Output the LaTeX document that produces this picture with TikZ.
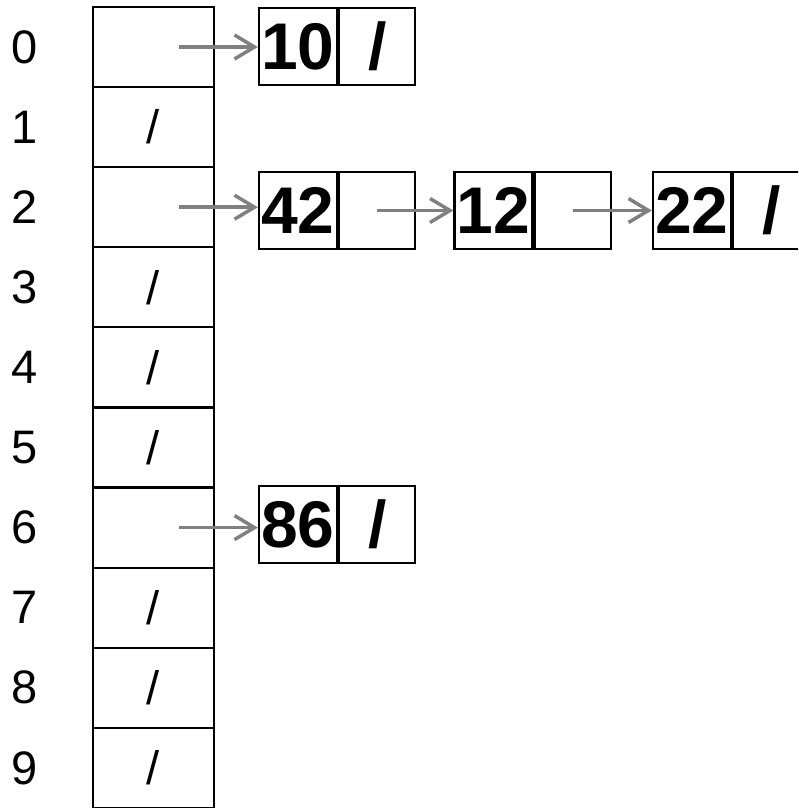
\documentclass[tikz,border=0pt]{standalone}
\usepackage{fontspec}
\setmainfont{Liberation Sans}
\usetikzlibrary{arrows.meta}
\definecolor{linkgray}{HTML}{808080}
\begin{document}
\begin{tikzpicture}[x=1pt,y=-1pt,
  cell/.style={draw,line width=2.2pt,minimum width=121pt,minimum height=80.1pt,inner sep=0pt,font=\fontsize{47}{50}\selectfont},
  idx/.style={inner sep=0pt,font=\fontsize{47}{50}\selectfont},
  val/.style={draw,line width=2.2pt,minimum width=78pt,minimum height=77pt,inner sep=0pt,font=\bfseries\fontsize{66}{70}\selectfont},
  ptr/.style={val,minimum width=76pt,anchor=west},
  link/.style={draw=linkgray,line width=3.5pt,-{Straight Barb[length=20pt,width=24pt]}}]
\useasboundingbox (0,0) rectangle (798,808);
\clip (0,0) rectangle (798,808);
% array
\foreach \i in {0,2,6}{
  \node[cell] (c\i) at (153.5,{47+80.1*\i}) {};
  \node[idx] (i\i) at (25,{47+80.1*\i}) {\i};
}
\foreach \i in {1,3,4,5,7,8,9}{
  \node[cell] (c\i) at (153.5,{47+80.1*\i}) {/};
  \node[idx] (i\i) at (25,{47+80.1*\i}) {\i};
}
% lists
\node[val] (v10) at (298,46.5) {10};
\node[ptr] (p10) at (v10.east) {/};
\node[val] (v42) at (298,210.5) {42};
\node[ptr] (p42) at (v42.east) {};
\node[val] (v12) at (493.5,210.5) {12};
\node[ptr] (p12) at (v12.east) {};
\node[val] (v22) at (692,210.5) {22};
\node[ptr] (p22) at (v22.east) {/};
\node[val] (v86) at (298,524.5) {86};
\node[ptr] (p86) at (v86.east) {/};
% links
\coordinate (s0) at ([xshift=25.5pt]c0.center);
\coordinate (s2) at ([xshift=25.5pt]c2.center);
\coordinate (s6) at ([xshift=25.5pt]c6.center);
\draw[link] (s0) -- (s0 -| v10.west);
\draw[link] (s2) -- (s2 -| v42.west);
\draw[link] (s6) -- (s6 -| v86.west);
\draw[link] (p42.center) -- (p42.center -| v12.west);
\draw[link] (p12.center) -- (p12.center -| v22.west);
\end{tikzpicture}
\end{document}
